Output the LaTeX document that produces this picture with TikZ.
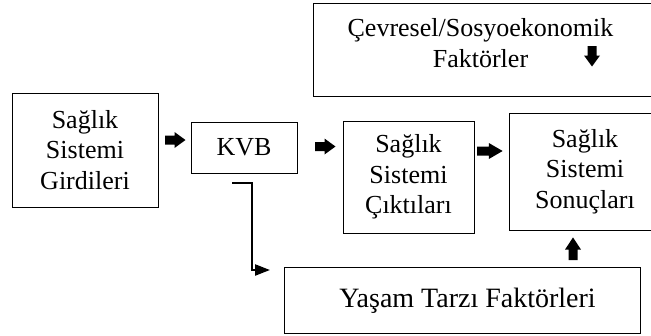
\documentclass[tikz,border=0pt]{standalone}
\usepackage{fontspec}
\setmainfont{Liberation Serif}
\usetikzlibrary{arrows.meta}
\tikzset{
  box/.style={draw=black, line width=1pt, rectangle, inner sep=0pt, align=center,
    font=\fontsize{26}{30.5}\selectfont},
  lbl/.style={inner sep=0pt, align=center, font=\fontsize{26}{31}\selectfont},
  blockarrow/.pic={\fill[black] (-10,-4.5) -- (-0.5,-4.5) -- (-0.5,-8) -- (10.5,0) -- (-0.5,8) -- (-0.5,4.5) -- (-10,4.5) -- cycle;},
  elbow/.style={line width=2.3pt, -{Triangle[length=15pt,width=11pt]}}
}
\begin{document}
\begin{tikzpicture}[x=1pt,y=-1pt]
\useasboundingbox (0,0) rectangle (651,335);
\clip (0,0) rectangle (651,335);
\fill[white] (0,0) rectangle (651,335);
% boxes
\node[box, minimum width=146pt, minimum height=114pt] (gir) at (85,150) {Sağlık\\Sistemi\\Girdileri};
\node[box, minimum width=106pt, minimum height=51pt] (kvb) at (244,147.5) {KVB};
\node[box, minimum width=131pt, minimum height=112pt] (cik) at (408.5,177) {Sağlık\\Sistemi\\Çıktıları};
\node[box, minimum width=152pt, minimum height=117pt] (son) at (585,171.5) {Sağlık\\Sistemi\\Sonuçları};
\node[box, minimum width=356pt, minimum height=66pt] (yas) at (462,300) {};
\node[lbl, font=\fontsize{28}{32}\selectfont] (yast) at (467.5,301) {Yaşam Tarzı Faktörleri};
\node[box, minimum width=350pt, minimum height=93pt] (cev) at (488,49.5) {};
\node[lbl] (cevt) at (480.5,43) {Çevresel/Sosyoekonomik\\Faktörler};
% block arrows
\pic at (175,140) {blockarrow};
\pic at (325,146.5) {blockarrow};
\pic[xscale=1.25] at (489.5,151) {blockarrow};
\pic[rotate=-90] at (592,56) {blockarrow};
\pic[rotate=90,xscale=1.1] at (573,249) {blockarrow};
% elbow connector
\coordinate (e1) at (232,183);
\coordinate (e2) at (270,270);
\draw[elbow] (e1) -- (252,183) |- (e2);
\end{tikzpicture}
\end{document}
